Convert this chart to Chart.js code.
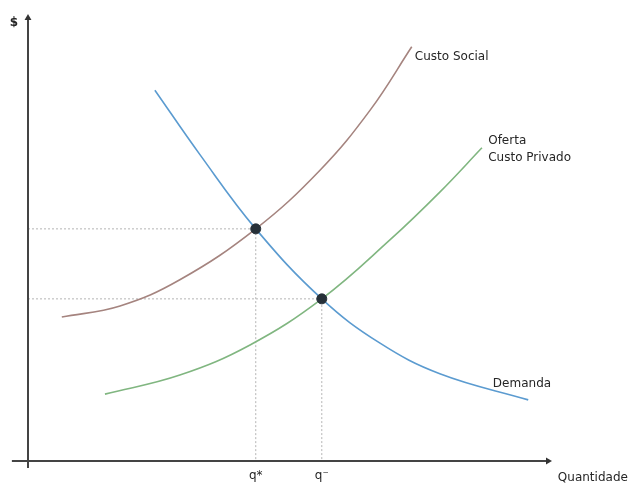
<!doctype html>
<html lang="pt">
<head>
    <meta charset="utf-8">
    <title>Externalidade negativa</title>
    <script src="https://cdn.jsdelivr.net/npm/chart.js"></script>
    <style>
        html, body { margin: 0; padding: 0; background: #fff; }
        #grafico { display: block; }
    </style>
</head>
<body>
    <canvas id="grafico" width="633" height="486"></canvas>
    <script type="text/javascript">
        // Curvas (quantidade, preço)
        var demandaX = [24.4, 33.1, 43.8, 56.5, 67.7, 79.2, 96.2];
        var demandaY = [83.7, 69.1, 52.4, 36.6, 26.6, 19.7, 13.8];

        var socialX = [6.5, 17.7, 29.2, 43.8, 56.2, 65.8, 73.8];
        var socialY = [32.5, 35.0, 40.9, 52.4, 65.7, 79.2, 93.5];

        var ofertaX = [14.8, 29.2, 42.7, 56.5, 69.6, 79.2, 87.3];
        var ofertaY = [15.1, 19.4, 26.2, 36.6, 49.9, 60.7, 70.7];

        // Equilíbrios: social (q*) e privado (q⁻)
        var equilibrioX = [43.8, 56.5];
        var equilibrioY = [52.4, 36.6];

        // Rótulos
        var rotulos = ['Custo Social', 'Oferta', 'Custo Privado', 'Demanda', '$', 'q*', 'q⁻', 'Quantidade'];
        var rotulosX = [74.4, 88.5, 88.5, 89.4, -2.7, 43.8, 56.5, 101.9];
        var rotulosY = [91.2, 72.2, 68.4, 17.4, 99.0, -3.4, -3.4, -3.8];
        var rotulosAlinha = ['left', 'left', 'left', 'left', 'center', 'center', 'center', 'left'];

        function pontos(xs, ys) {
            return xs.map(function (x, i) { return { x: x, y: ys[i] }; });
        }

        function linhaGuia(i) {
            return [
                { x: 0, y: equilibrioY[i] },
                { x: equilibrioX[i], y: equilibrioY[i] },
                { x: equilibrioX[i], y: 0 }
            ];
        }

        var curva = {
            showLine: true,
            fill: false,
            pointRadius: 0,
            borderWidth: 1.6,
            tension: 0.4
        };

        var textos = {
            id: 'textos',
            afterDatasetsDraw: function (chart) {
                var ctx = chart.ctx;
                var sx = chart.scales.x, sy = chart.scales.y;
                ctx.save();
                ctx.fillStyle = '#262626';
                ctx.textBaseline = 'middle';
                rotulos.forEach(function (t, i) {
                    ctx.font = (t === '$' ? 'bold ' : '') + '12px "DejaVu Sans", sans-serif';
                    ctx.textAlign = rotulosAlinha[i];
                    ctx.fillText(t, sx.getPixelForValue(rotulosX[i]), sy.getPixelForValue(rotulosY[i]));
                });
                ctx.restore();
            }
        };

        // Chart.js desenha o primeiro dataset por cima
        var ctx = document.getElementById('grafico').getContext('2d');
        var grafico = new Chart(ctx, {
            type: 'scatter',
            data: {
                datasets: [
                    { data: pontos(equilibrioX, equilibrioY), pointRadius: 5, pointBackgroundColor: '#263038', pointBorderColor: '#263038' },
                    Object.assign({ data: pontos(demandaX, demandaY), borderColor: '#5b9bd0', borderWidth: 2 }, curva),
                    Object.assign({ data: pontos(socialX, socialY), borderColor: '#a5847f' }, curva),
                    Object.assign({ data: pontos(ofertaX, ofertaY), borderColor: '#80b680' }, curva),
                    // eixos com setas
                    { data: [{ x: 0, y: -1.6 }, { x: 0, y: 100 }], showLine: true, borderColor: '#444', borderWidth: 2,
                      pointRadius: [0, 4], pointStyle: 'triangle', pointBackgroundColor: '#333', pointBorderWidth: 0 },
                    { data: [{ x: -3.1, y: 0 }, { x: 100, y: 0 }], showLine: true, borderColor: '#444', borderWidth: 2,
                      pointRadius: [0, 4], pointStyle: 'triangle', pointRotation: 90, pointBackgroundColor: '#333', pointBorderWidth: 0 },
                    { data: linhaGuia(0), showLine: true, pointRadius: 0, borderColor: '#b5b5b5', borderWidth: 1, borderDash: [2, 2] },
                    { data: linhaGuia(1), showLine: true, pointRadius: 0, borderColor: '#b5b5b5', borderWidth: 1, borderDash: [2, 2] }
                ]
            },
            options: {
                responsive: false,
                animation: false,
                layout: { padding: 0, autoPadding: false },
                plugins: { legend: { display: false }, tooltip: { enabled: false } },
                scales: {
                    x: { type: 'linear', min: -5.385, max: 116.35, display: false },
                    y: { type: 'linear', min: -5.64, max: 104.06, display: false }
                }
            },
            plugins: [textos]
        });
    </script>
</body>
</html>
